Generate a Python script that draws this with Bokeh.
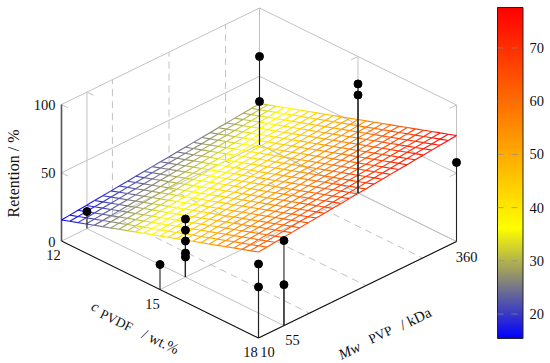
import math
from bokeh.plotting import figure
from bokeh.models import Range1d
from bokeh.core.properties import value
from bokeh.embed import file_html
from bokeh.resources import INLINE

# ---- data ----
c_ticks = [12, 15, 18]
mw_ticks = [10, 55, 360]
mw_minor = [100, 200, 300]
z_ticks = [0, 50, 100]
cbar_ticks = [20, 30, 40, 50, 60, 70]
# fitted plane: retention at the corners (c, Mw)
plane_c = [12, 18]
plane_mw = [10, 360]
plane_z = [[15.4, 30.0], [63.0, 77.6]]
mesh_samples = 25
cmap_stops = [(0, 0, 255), (255, 255, 0), (255, 128, 0), (255, 0, 0)]
z_min, z_max = 15.4, 77.6
# measured points
pt_c = [12, 15, 15, 15, 15, 15, 15, 18, 18, 18, 18, 12, 12, 15, 15, 18]
pt_mw = [55, 10, 55, 55, 55, 55, 55, 10, 10, 55, 55, 360, 360, 360, 360, 360]
pt_z = [12.5, 18.3, 42.5, 34.4, 26.4, 17.6, 14.7, 54.2, 37.4, 62.3, 30.0, 64.5, 31.5, 79.9, 71.8, 57.9]

FONT = value("Liberation Serif")
GRAY = "#c2c2c2"


def proj(c, mw, z):
    u = (c - 12) / 6
    v = (mw - 10) / 350
    return (61 + 197 * u + 198 * v, 240.5 + 97 * u - 96.5 * v - 1.365 * z)


def surf(c, mw):
    u = (c - plane_c[0]) / (plane_c[1] - plane_c[0])
    v = (mw - plane_mw[0]) / (plane_mw[1] - plane_mw[0])
    return (plane_z[0][0] * (1 - u) * (1 - v) + plane_z[0][1] * (1 - u) * v
            + plane_z[1][0] * u * (1 - v) + plane_z[1][1] * u * v)


def color(z):
    t = max(0.0, min(1.0, (z - z_min) / (z_max - z_min))) * (len(cmap_stops) - 1)
    i = min(int(t), len(cmap_stops) - 2)
    f = t - i
    a, b = cmap_stops[i], cmap_stops[i + 1]
    return "#%02x%02x%02x" % tuple(round(a[k] + (b[k] - a[k]) * f) for k in range(3))


p = figure(width=550, height=363, x_range=Range1d(0, 550), y_range=Range1d(363, 0),
           toolbar_location=None, output_backend="svg", min_border=0,
           outline_line_color=None, background_fill_color="white")
p.xaxis.visible = False
p.yaxis.visible = False
p.grid.visible = False


def seg(a, b, **kw):
    pa, pb = proj(*a), proj(*b)
    p.line([pa[0], pb[0]], [pa[1], pb[1]], **kw)


solid = dict(line_color=GRAY, line_width=1)
dash = dict(line_color=GRAY, line_width=1, line_dash="7 5")
c0, c1 = c_ticks[0], c_ticks[-1]
m0, m1 = mw_ticks[0], mw_ticks[-1]
for z in z_ticks:
    seg((c0, m0, z), (c0, m1, z), **solid)
    seg((c0, m1, z), (c1, m1, z), **solid)
for m in mw_ticks[1:]:
    seg((c0, m, 0), (c0, m, 100), **solid)
    seg((c0, m, 0), (c1, m, 0), **solid)
for c in c_ticks[1:]:
    seg((c, m1, 0), (c, m1, 100), **solid)
    seg((c, m0, 0), (c, m1, 0), **solid)
for m in mw_minor:
    seg((c0, m, 0), (c0, m, 100), **dash)
    seg((c0, m, 0), (c1, m, 0), **dash)
# small wall ticks
for z in z_ticks[1:]:
    seg((c0, m0, z), (c0 + 0.2, m0, z), **solid)
    seg((c1, m1, z), (c1, m1 - 12, z), **solid)
seg((c0, 55, 100), (c0 + 0.2, 55, 100), **solid)
seg((15, m1, 100), (15, m1 - 12, 100), **solid)

# z axis and front box edges
seg((c0, m0, 0), (c0, m0, 100), line_color="#555555", line_width=1.6)
seg((c0, m0, 0), (c1, m0, 0), line_color="#111111", line_width=1.1)
seg((c1, m0, 0), (c1, m1, 0), line_color="#111111", line_width=1.1)

# mesh surface
xs, ys, cols = [], [], []
cs = [c0 + (c1 - c0) * i / (mesh_samples - 1) for i in range(mesh_samples)]
ms = [m0 + (m1 - m0) * i / (mesh_samples - 1) for i in range(mesh_samples)]
for i, c in enumerate(cs):
    for j, m in enumerate(ms):
        for c2, m2 in ([(cs[i + 1], m)] if i + 1 < mesh_samples else []) + ([(c, ms[j + 1])] if j + 1 < mesh_samples else []):
            a = proj(c, m, surf(c, m))
            b = proj(c2, m2, surf(c2, m2))
            xs.append([a[0], b[0]])
            ys.append([a[1], b[1]])
            cols.append(color((surf(c, m) + surf(c2, m2)) / 2))
p.multi_line(xs, ys, line_color=cols, line_width=1.1)

# stems and points
for c, m, z in zip(pt_c, pt_mw, pt_z):
    seg((c, m, 0), (c, m, z), line_color="#222222", line_width=1.1)
px = [proj(c, m, z)[0] for c, m, z in zip(pt_c, pt_mw, pt_z)]
py = [proj(c, m, z)[1] for c, m, z in zip(pt_c, pt_mw, pt_z)]
p.scatter(px, py, size=8, color="black")

# colour bar
BX0, BX1, BY0, BY1 = 497, 522.5, 338, 7
N = 331
lo = [BY0 + (BY1 - BY0) * i / N for i in range(N)]
hi = [max(BY0 + (BY1 - BY0) * (i + 2) / N, BY1) for i in range(N)]
vals = [z_min + (z_max - z_min) * (i + 0.5) / N for i in range(N)]
p.quad(left=BX0, right=BX1, top=hi, bottom=lo, fill_color=[color(v) for v in vals], line_color=None)
p.quad(left=[BX0], right=[BX1], top=[BY1], bottom=[BY0], fill_color=None, line_color="#222222", line_width=1)


def bar_y(v):
    return BY0 + (BY1 - BY0) * (v - z_min) / (z_max - z_min)


for v in cbar_ticks:
    y = bar_y(v)
    p.line([BX0, BX1], [y, y], line_color="#8a8a8a", line_alpha=0.7, line_width=1, line_dash="6 8")
p.text([529] * len(cbar_ticks), [bar_y(v) for v in cbar_ticks], text=[str(v) for v in cbar_ticks],
       text_font=FONT, text_font_size="14.5px", text_align="left", text_baseline="middle", text_color="#111111")


def label(x, y, s, size=14.5, angle=0.0, align="center", style="normal"):
    p.text([x], [y], text=[s], angle=angle, text_font=FONT, text_font_size=f"{size}px",
           text_align=align, text_baseline="middle", text_font_style=style, text_color="#111111")


for z, y in zip(z_ticks, (241, 172, 104)):
    label(55, y, str(z), align="right")
label(53, 254, "12")
label(152, 303, "15")
label(250, 351, "18")
label(267, 351, "10")
label(292, 339, "55")
label(466, 256, "360")

A = math.radians(26)
label(13, 173, "Retention / %", size=16, angle=math.pi / 2)
label(95, 306, "c", size=15, angle=-A, style="italic")
label(116, 320, "PVDF", size=13.5, angle=-A)
label(160, 341, "/ wt.%", size=15, angle=-A)
label(349, 350, "Mw", size=15, angle=A, style="italic")
label(380, 334, "PVP", size=13.5, angle=A)
label(415, 318, "/ kDa", size=15, angle=A)

open("out.html", "w").write(file_html(p, INLINE))
